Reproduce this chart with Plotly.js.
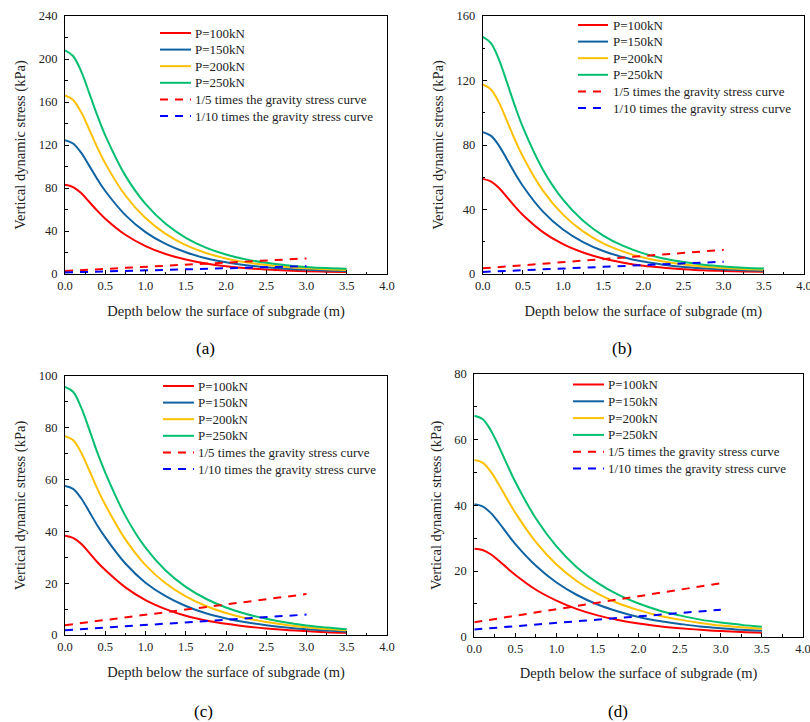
<!DOCTYPE html>
<html>
<head>
<meta charset="utf-8">
<script src="https://cdn.plot.ly/plotly-3.0.1.min.js"></script>
<style>html,body{margin:0;padding:0;background:#fff;}#chart{width:810px;height:722px;}</style>
</head>
<body>
<div id="chart"></div>
<script>
// ---- data ----
const depth = [0, 0.1, 0.2, 0.3, 0.4, 0.5, 0.75, 1.0, 1.25, 1.5, 1.75, 2.0, 2.25, 2.5, 2.75, 3.0, 3.25, 3.5];
const gravityDepth = [0, 3.0];
const seriesNames = ["P=100kN", "P=150kN", "P=200kN", "P=250kN",
  "1/5 times the gravity stress curve", "1/10 times the gravity stress curve"];
const panelLabels = ["(a)", "(b)", "(c)", "(d)"];
const xTitle = "Depth below the surface of subgrade (m)";
const yTitle = "Vertical dynamic stress (kPa)";

// panel (a)
const aP100 = [83, 80.9, 75.3, 67.2, 58.9, 51.5, 36.5, 26.0, 18.6, 13.5, 9.8, 7.2, 5.4, 4.2, 3.3, 2.6, 2.2, 1.9];
const aP150 = [124.5, 121.4, 112.9, 100.8, 88.4, 77.2, 54.8, 39.0, 28.0, 20.2, 14.7, 10.9, 8.2, 6.2, 4.9, 4.0, 3.3, 2.9];
const aP200 = [166, 161.9, 150.6, 134.5, 117.9, 102.9, 73.0, 52.0, 37.3, 26.9, 19.6, 14.5, 10.9, 8.3, 6.6, 5.3, 4.4, 3.8];
const aP250 = [208, 202.8, 188.7, 168.5, 147.7, 129.0, 91.5, 65.2, 46.7, 33.7, 24.6, 18.1, 13.6, 10.4, 8.2, 6.6, 5.5, 4.8];
const aGrav5 = [2.8, 14.5];
const aGrav10 = [1.4, 7.3];
// panel (b)
const bP100 = [59, 57.5, 53.5, 47.8, 41.9, 36.6, 26.0, 18.5, 13.3, 9.6, 7.0, 5.1, 3.9, 3.0, 2.3, 1.9, 1.6, 1.4];
const bP150 = [88, 85.8, 79.8, 71.3, 62.5, 54.6, 38.7, 27.6, 19.8, 14.3, 10.4, 7.7, 5.8, 4.4, 3.5, 2.8, 2.3, 2.0];
const bP200 = [117.5, 114.6, 106.6, 95.2, 83.4, 72.9, 51.7, 36.8, 26.4, 19.0, 13.9, 10.2, 7.7, 5.9, 4.6, 3.7, 3.1, 2.7];
const bP250 = [147, 143.3, 133.3, 119.1, 104.4, 91.1, 64.7, 46.1, 33.0, 23.8, 17.4, 12.8, 9.6, 7.4, 5.8, 4.7, 3.9, 3.4];
const bGrav5 = [3.5, 15.0];
const bGrav10 = [1.3, 7.6];
// panel (c)
const cP100 = [38.3, 37.5, 35.2, 31.8, 28.2, 25.1, 18.4, 13.5, 10.0, 7.4, 5.6, 4.3, 3.3, 2.5, 1.9, 1.5, 1.1, 0.9];
const cP150 = [57.5, 56.4, 52.8, 47.7, 42.4, 37.7, 27.6, 20.2, 15.0, 11.2, 8.4, 6.4, 4.9, 3.8, 2.9, 2.2, 1.7, 1.3];
const cP200 = [76.8, 75.3, 70.5, 63.7, 56.6, 50.3, 36.9, 27.0, 20.0, 14.9, 11.2, 8.5, 6.5, 5.0, 3.9, 3.0, 2.3, 1.8];
const cP250 = [95.8, 93.9, 87.9, 79.5, 70.6, 62.7, 46.0, 33.7, 24.9, 18.6, 14.0, 10.6, 8.1, 6.3, 4.8, 3.7, 2.9, 2.2];
const cGrav5 = [3.8, 15.8];
const cGrav10 = [1.85, 7.9];
// panel (d)
const dP100 = [26.8, 26.4, 25.1, 23.1, 20.9, 18.8, 14.3, 11.0, 8.4, 6.5, 5.1, 4.0, 3.2, 2.6, 2.1, 1.7, 1.4, 1.2];
const dP150 = [40.3, 39.7, 37.7, 34.7, 31.4, 28.2, 21.6, 16.5, 12.7, 9.8, 7.7, 6.0, 4.8, 3.9, 3.1, 2.6, 2.1, 1.8];
const dP200 = [53.8, 53.0, 50.3, 46.3, 41.9, 37.7, 28.8, 22.0, 16.9, 13.1, 10.2, 8.1, 6.4, 5.2, 4.2, 3.4, 2.9, 2.4];
const dP250 = [67.3, 66.3, 62.9, 57.9, 52.4, 47.1, 36.0, 27.5, 21.1, 16.4, 12.8, 10.1, 8.0, 6.5, 5.2, 4.3, 3.6, 3.0];
const dGrav5 = [4.4, 16.3];
const dGrav10 = [2.2, 8.2];

const yRanges = [[0, 240], [0, 160], [0, 100], [0, 80]];
const yDticks = [40, 40, 20, 20];

// ---- styling / layout ----
const W = 810, H = 722;
const FONT = "'Liberation Serif', 'Times New Roman', serif";
const colors = ["#FF0000", "#1063A2", "#FFC000", "#00BF6F", "#FF0000", "#0000FF"];
const panels = [
  {curves: [aP100, aP150, aP200, aP250], grav: [aGrav5, aGrav10], px: [65, 387], py: [16, 274],
   leg: {x1: 160, x2: 191, xt: 193, y0: 33, dy: 16.6}, cap: [205, 348]},
  {curves: [bP100, bP150, bP200, bP250], grav: [bGrav5, bGrav10], px: [482.7, 804], py: [16, 274],
   leg: {x1: 578, x2: 608, xt: 611, y0: 25, dy: 16.6}, cap: [622, 348]},
  {curves: [cP100, cP150, cP200, cP250], grav: [cGrav5, cGrav10], px: [65, 387], py: [376, 635],
   leg: {x1: 163, x2: 194, xt: 196, y0: 386, dy: 16.6}, cap: [204, 711]},
  {curves: [dP100, dP150, dP200, dP250], grav: [dGrav5, dGrav10], px: [474.3, 803], py: [374, 636.7],
   leg: {x1: 573, x2: 604, xt: 606, y0: 384.5, dy: 16.8}, cap: [618, 711]}
];
const dashStyle = "8px,7px";

const traces = [];
const layout = {
  width: W, height: H, margin: {l: 0, r: 0, t: 0, b: 0},
  paper_bgcolor: "#fff", plot_bgcolor: "#fff",
  font: {family: FONT, color: "#000", size: 12},
  showlegend: false, shapes: [], annotations: []
};

panels.forEach((p, i) => {
  const sfx = i === 0 ? "" : String(i + 1);
  const xa = "x" + sfx, ya = "y" + sfx;
  p.curves.forEach((vals, k) => {
    traces.push({x: depth, y: vals, xaxis: xa, yaxis: ya, type: "scatter", mode: "lines",
      name: seriesNames[k], line: {color: colors[k], width: 2, shape: "spline", smoothing: 1}});
  });
  p.grav.forEach((vals, k) => {
    traces.push({x: gravityDepth, y: vals, xaxis: xa, yaxis: ya, type: "scatter", mode: "lines",
      name: seriesNames[4 + k], line: {color: colors[4 + k], width: 2, dash: dashStyle}});
  });
  const axCommon = {showline: true, mirror: true, linecolor: "#000", linewidth: 1,
    ticks: "inside", ticklen: 4, tickcolor: "#000", showgrid: false, zeroline: false,
    ticklabeloverflow: "allow",
    tickfont: {family: FONT, size: 12.5, color: "#222"}};
  layout["xaxis" + sfx] = Object.assign({}, axCommon, {
    anchor: ya, domain: [p.px[0] / W, p.px[1] / W], range: [0, 4], dtick: 0.5, tick0: 0,
    tickformat: ".1f", minor: {ticks: "inside", ticklen: 2.5, dtick: 0.25, tickcolor: "#000"},
    title: {text: xTitle, font: {family: FONT, size: 14.5, color: "#222"}, standoff: 13}
  });
  layout["yaxis" + sfx] = Object.assign({}, axCommon, {
    anchor: xa, domain: [1 - p.py[1] / H, 1 - p.py[0] / H], range: yRanges[i], dtick: yDticks[i], tick0: 0,
    minor: {ticks: "inside", ticklen: 2.5, dtick: yDticks[i] / 2, tickcolor: "#000"},
    ticklabelstandoff: 4,
    title: {text: yTitle, font: {family: FONT, size: 14.5, color: "#222"}, standoff: 9}
  });
  // manual legend
  seriesNames.forEach((nm, k) => {
    const yy = 1 - (p.leg.y0 + k * p.leg.dy) / H;
    layout.shapes.push({type: "line", xref: "paper", yref: "paper",
      x0: p.leg.x1 / W, x1: p.leg.x2 / W, y0: yy, y1: yy,
      line: {color: colors[k], width: 2, dash: k >= 4 ? dashStyle : "solid"}});
    layout.annotations.push({xref: "paper", yref: "paper", x: p.leg.xt / W, y: yy,
      xanchor: "left", yanchor: "middle", showarrow: false, text: nm,
      font: {family: FONT, size: 13, color: "#222"}});
  });
  layout.annotations.push({xref: "paper", yref: "paper", x: p.cap[0] / W, y: 1 - p.cap[1] / H,
    xanchor: "center", yanchor: "middle", showarrow: false, text: panelLabels[i],
    font: {family: FONT, size: 17, color: "#000"}});
});

Plotly.newPlot("chart", traces, layout, {displayModeBar: false, staticPlot: true});
</script>
</body>
</html>
